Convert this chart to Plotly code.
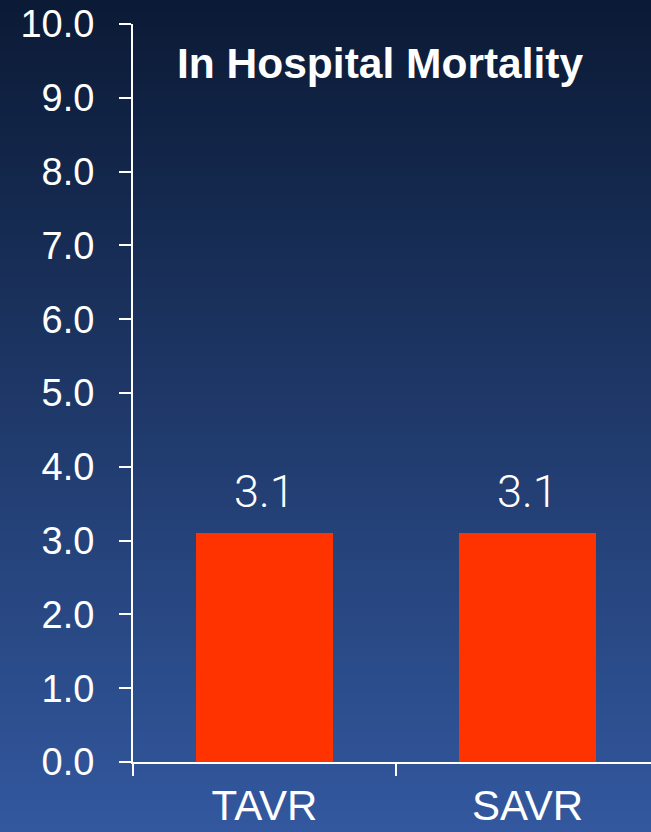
import plotly.graph_objects as go

# Data
categories = ["TAVR", "SAVR"]
mortality = [3.1, 3.1]
y_ticks = [0, 1, 2, 3, 4, 5, 6, 7, 8, 9, 10]
chart_title = "In Hospital Mortality"

W, H = 651, 832
ML, MT, MB, MR = 133, 24, 70, 0
plot_w = W - ML - MR
plot_h = H - MT - MB

fig = go.Figure()
fig.add_trace(go.Bar(
    x=categories,
    y=mortality,
    width=0.523,
    marker=dict(color="#ff3300", line=dict(width=0)),
    hoverinfo="skip",
))

# Value labels above each bar
for cat, val in zip(categories, mortality):
    fig.add_annotation(
        x=cat, y=val, xref="x", yref="y",
        text=f"{val:.1f}", showarrow=False,
        yanchor="bottom", yshift=13,
        font=dict(family="Roboto", size=45, color="white", weight=300),
    )

# Title
fig.add_annotation(
    x=(380 - ML) / plot_w, y=(MT + plot_h - 63) / plot_h,
    xref="paper", yref="paper",
    text=f"<b>{chart_title}</b>", showarrow=False,
    xanchor="center", yanchor="middle",
    font=dict(family="Liberation Sans", size=42.5, color="white"),
)

# Vertical background gradient built from thin strips
top = (0x0b, 0x1a, 0x35)
bot = (0x33, 0x58, 0x9f)
n = 208
shapes = []
for i in range(n):
    t = (i + 0.5) / n
    c = tuple(round(a + (b - a) * t) for a, b in zip(top, bot))
    py0 = H * i / n
    py1 = H * (i + 1) / n + 0.6
    shapes.append(dict(
        type="rect", xref="paper", yref="paper", layer="below",
        x0=-ML / plot_w - 0.01, x1=1.01,
        y0=(MT + plot_h - py1) / plot_h, y1=(MT + plot_h - py0) / plot_h,
        fillcolor="rgb(%d,%d,%d)" % c, line=dict(width=0),
    ))

fig.update_layout(
    width=W, height=H,
    margin=dict(l=ML, r=MR, t=MT, b=MB, pad=0, autoexpand=False),
    paper_bgcolor="#1f396a",
    plot_bgcolor="rgba(0,0,0,0)",
    showlegend=False,
    shapes=shapes,
    bargap=0,
    font=dict(family="Liberation Sans", color="white"),
)
fig.update_xaxes(
    type="category",
    automargin=False,
    range=[-0.5, -0.5 + plot_w / 263.0],
    tickson="boundaries",
    ticks="outside", ticklen=12, tickwidth=2, tickcolor="white",
    showline=True, linecolor="white", linewidth=2,
    showgrid=False, zeroline=False,
    tickfont=dict(family="Liberation Sans", size=42, color="white"),
    ticklabelstandoff=6,
)
fig.update_yaxes(
    automargin=False,
    range=[0, 10],
    tickvals=y_ticks,
    tickformat=".1f",
    ticks="outside", ticklen=12, tickwidth=2, tickcolor="white",
    showline=True, linecolor="white", linewidth=2,
    showgrid=False, zeroline=False,
    tickfont=dict(family="Liberation Sans", size=38, color="white"),
    ticklabelstandoff=17,
)

fig.write_html("out.html")
